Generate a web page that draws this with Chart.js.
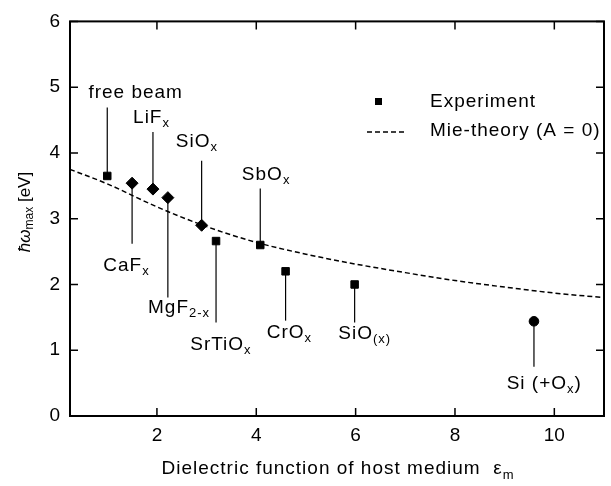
<!DOCTYPE html>
<html lang="en">
<head>
<meta charset="UTF-8">
<title>Plasmon energy vs host dielectric function</title>
<script src="https://cdn.jsdelivr.net/npm/chart.js"></script>
<style>
    body { margin: 0; padding: 0; background: white; }
    canvas { display: block; }
</style>
</head>
<body>
<canvas id="mieChart" width="611" height="486"></canvas>
<script>
// experiment points
const materials = ['free beam', 'CaF_x', 'LiF_x', 'MgF_{2-x}', 'SiO_x', 'SrTiO_x', 'SbO_x', 'CrO_x', 'SiO_{(x)}', 'Si (+O_x)'];
const epsHost   = [1.0, 1.5, 1.92, 2.22, 2.9, 3.19, 4.08, 4.59, 5.98, 9.59];
const energy    = [3.65, 3.54, 3.45, 3.32, 2.9, 2.66, 2.6, 2.2, 2.0, 1.44];
const markers   = ['rect', 'rectRot', 'rectRot', 'rectRot', 'rectRot', 'rect', 'rect', 'rect', 'rect', 'circle'];

// where each label sits (data units): leader line end, label left x, label centre y
const leaderEnd = [4.69, 2.62, 4.32, 1.80, 3.88, 1.42, 3.46, 1.45, 1.42, 0.75];
const labelX    = [0.62, 0.92, 1.52, 1.82, 2.38, 2.67, 3.71, 4.21, 5.65, 9.04];
const labelY    = [4.92, 2.29, 4.54, 1.65, 4.17, 1.09, 3.67, 1.27, 1.25, 0.49];

// Mie theory curve
const mieEps = [0.25, 1, 2, 3, 4, 5, 6, 7, 8, 9, 10, 11];
const mieE   = [3.75, 3.53, 3.18, 2.88, 2.64, 2.46, 2.31, 2.18, 2.06, 1.96, 1.87, 1.80];

const xTicks = [2, 4, 6, 8, 10];
const yTicks = [0, 1, 2, 3, 4, 5, 6];

const FONT = '"Liberation Sans", Arial, sans-serif';

// split 'LiF_x' / 'MgF_{2-x}' into normal and subscript pieces
function parseRich(str) {
    const parts = [];
    const re = /_\{([^}]*)\}|_(.)/g;
    let last = 0, m;
    while ((m = re.exec(str)) !== null) {
        if (m.index > last) parts.push({ t: str.slice(last, m.index) });
        parts.push({ t: m[1] !== undefined ? m[1] : m[2], sub: true });
        last = re.lastIndex;
    }
    if (last < str.length) parts.push({ t: str.slice(last) });
    return parts;
}

function drawRich(ctx, parts, x, y, opts) {
    const o = Object.assign({ align: 'left', size: 19, subSize: 13, shift: 6, spacing: '1px' }, opts);
    ctx.textBaseline = 'middle';
    ctx.textAlign = 'left';
    ctx.letterSpacing = o.spacing;
    const fontOf = p => (p.italic ? 'italic ' : '') + (p.sub ? o.subSize : o.size) + 'px ' + FONT;
    let total = 0;
    parts.forEach(p => { ctx.font = fontOf(p); total += ctx.measureText(p.t).width; });
    let cx = o.align === 'center' ? x - total / 2 : x;
    parts.forEach(p => {
        ctx.font = fontOf(p);
        ctx.fillText(p.t, cx, p.sub ? y + o.shift : y);
        cx += ctx.measureText(p.t).width;
    });
}

const decorations = {
    id: 'decorations',
    afterDraw(chart) {
        const ctx = chart.ctx;
        const xs = chart.scales.x, ys = chart.scales.y;
        const a = chart.chartArea;
        ctx.save();
        ctx.strokeStyle = '#000';
        ctx.fillStyle = '#000';

        // frame
        ctx.lineWidth = 2;
        ctx.strokeRect(a.left, a.top, a.right - a.left, a.bottom - a.top);

        // inward ticks on all four sides
        ctx.lineWidth = 1.5;
        ctx.beginPath();
        xTicks.forEach(v => {
            const px = xs.getPixelForValue(v);
            ctx.moveTo(px, a.bottom); ctx.lineTo(px, a.bottom - 8);
            ctx.moveTo(px, a.top); ctx.lineTo(px, a.top + 8);
        });
        yTicks.forEach(v => {
            const py = ys.getPixelForValue(v);
            ctx.moveTo(a.left, py); ctx.lineTo(a.left + 8, py);
            ctx.moveTo(a.right, py); ctx.lineTo(a.right - 8, py);
        });
        ctx.stroke();

        // leader lines and labels
        ctx.lineWidth = 1.2;
        materials.forEach((name, i) => {
            const px = xs.getPixelForValue(epsHost[i]);
            ctx.beginPath();
            ctx.moveTo(px, ys.getPixelForValue(energy[i]));
            ctx.lineTo(px, ys.getPixelForValue(leaderEnd[i]));
            ctx.stroke();
            drawRich(ctx, parseRich(name), xs.getPixelForValue(labelX[i]), ys.getPixelForValue(labelY[i]));
        });

        // legend
        ctx.fillRect(375, 98, 7, 7);
        ctx.setLineDash([5, 3]);
        ctx.lineWidth = 1.5;
        ctx.beginPath();
        ctx.moveTo(367, 132); ctx.lineTo(405, 132);
        ctx.stroke();
        ctx.setLineDash([]);
        drawRich(ctx, [{ t: 'Experiment' }], 430, 102);
        drawRich(ctx, [{ t: 'Mie-theory (A = 0)' }], 430, 131);

        // axis titles
        drawRich(ctx, [{ t: 'Dielectric function of host medium  ε' }, { t: 'm', sub: true }], 338, 469, { align: 'center' });
        ctx.save();
        ctx.translate(25, 212);
        ctx.rotate(-Math.PI / 2);
        drawRich(ctx, [{ t: 'ħω', italic: true }, { t: 'max', sub: true }, { t: ' [eV]' }], 0, 0,
            { align: 'center', size: 17, subSize: 12, shift: 5, spacing: '0px' });
        ctx.restore();

        ctx.restore();
    }
};

new Chart(document.getElementById('mieChart'), {
    type: 'scatter',
    data: {
        datasets: [
            {
                label: 'Experiment',
                data: epsHost.map((x, i) => ({ x: x, y: energy[i] })),
                pointStyle: markers,
                pointRadius: markers.map(m => m === 'rect' ? 5.3 : m === 'rectRot' ? 6 : 4.8),
                backgroundColor: '#000',
                borderColor: '#000',
                borderWidth: 1,
                showLine: false
            },
            {
                label: 'Mie-theory (A = 0)',
                data: mieEps.map((x, i) => ({ x: x, y: mieE[i] })),
                showLine: true,
                borderColor: '#000',
                borderWidth: 1.5,
                borderDash: [5, 3],
                pointRadius: 0,
                cubicInterpolationMode: 'monotone'
            }
        ]
    },
    options: {
        responsive: false,
        animation: false,
        layout: { padding: { top: 15, right: 3, left: 0, bottom: 0 } },
        plugins: {
            legend: { display: false },
            tooltip: { enabled: false }
        },
        scales: {
            x: {
                type: 'linear',
                min: 0.25,
                max: 11,
                afterFit(scale) { scale.height = 70; },
                afterBuildTicks(scale) { scale.ticks = xTicks.map(v => ({ value: v })); },
                grid: { display: false, drawTicks: false },
                border: { display: false },
                ticks: { color: '#000', padding: 8, font: { family: FONT, size: 19 } }
            },
            y: {
                type: 'linear',
                min: 0,
                max: 6,
                afterFit(scale) { scale.width = 70; },
                afterBuildTicks(scale) { scale.ticks = yTicks.map(v => ({ value: v })); },
                grid: { display: false, drawTicks: false },
                border: { display: false },
                ticks: { color: '#000', padding: 10, font: { family: FONT, size: 19 } }
            }
        }
    },
    plugins: [decorations]
});
</script>
</body>
</html>
